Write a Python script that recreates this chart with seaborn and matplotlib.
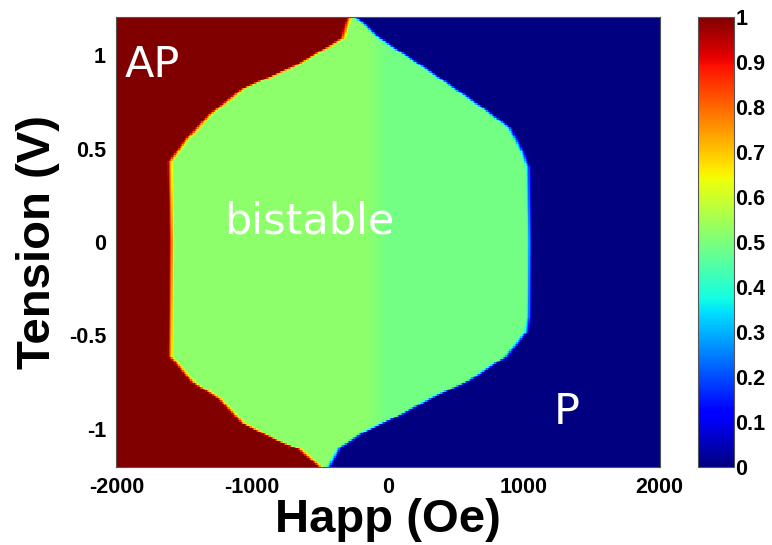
import numpy as np
import pandas as pd
import matplotlib
matplotlib.use("Agg")
import matplotlib.pyplot as plt
import seaborn as sns

# boundary AP / bistable, from top to bottom
left_tension = [1.21, 1.09, 0.946, 0.82, 0.68, 0.55, 0.43, 0.0, -0.61, -0.75, -0.84, -0.97, -1.06, -1.11, -1.21]
left_happ = [-280, -330, -670, -1066, -1310, -1478, -1603, -1590, -1600, -1434, -1235, -1066, -816, -647, -485]

# boundary bistable / P
right_tension = [1.21, 1.09, 0.914, 0.73, 0.61, 0.48, 0.4, 0.0, -0.4, -0.48, -0.61, -0.74, -0.84, -0.935, -1.02, -1.1, -1.21]
right_happ = [-243, -59, 309, 676, 897, 993, 1035, 1045, 1040, 1022, 875, 603, 309, 66, -184, -353, -440]

# level of each state
val_ap = 1.0
val_p = 0.0
val_bist_left = 0.52
val_bist_right = 0.49
bist_split = -80

happ = np.arange(-2000, 2001, 10)
tension = np.round(np.arange(1.2, -1.2001, -0.01), 3)

# build the grid for the heatmap
H, V = np.meshgrid(happ, tension)
L = np.interp(V, left_tension[::-1], left_happ[::-1])
R = np.interp(V, right_tension[::-1], right_happ[::-1])
w = 45.0
a = np.clip((H - L) / w + 0.5, 0, 1)
b = np.clip((H - R) / w + 0.5, 0, 1)
c = np.clip((H - bist_split) / 160.0 + 0.5, 0, 1)
mid = val_bist_left * (1 - c) + val_bist_right * c
Z = (val_ap * (1 - a) + mid * a) * (1 - b) + val_p * b
df = pd.DataFrame(Z, index=tension, columns=happ)

sns.set_style("white")
plt.rcParams['font.family'] = ['Liberation Sans', 'DejaVu Sans']
plt.rcParams['text.color'] = 'black'
plt.rcParams['axes.labelcolor'] = 'black'
plt.rcParams['xtick.color'] = 'black'
plt.rcParams['ytick.color'] = 'black'

fig = plt.figure(figsize=(7.72, 5.45), dpi=100)
ax = fig.add_axes([0.150, 0.143, 0.705, 0.826])
cax = fig.add_axes([0.904, 0.143, 0.047, 0.826])

sns.heatmap(df, cmap="jet", vmin=0, vmax=1, ax=ax, cbar_ax=cax,
            xticklabels=False, yticklabels=False)

dh = happ[1] - happ[0]
dv = tension[0] - tension[1]
xt = [-2000, -1000, 0, 1000, 2000]
yt = [1, 0.5, 0, -0.5, -1]
ax.set_xticks([(x - happ[0]) / dh + 0.5 for x in xt])
ax.set_xticklabels(["-2000", "-1000", "0", "1000", "2000"], fontsize=15.5, fontweight="bold", rotation=0)
ax.set_yticks([(tension[0] - y) / dv + 0.5 for y in yt])
ax.set_yticklabels(["1", "0.5", "0", "-0.5", "-1"], fontsize=15.5, fontweight="bold", rotation=0)
ax.tick_params(direction="in", length=4, width=0.6, color="#444444", top=True, right=True, pad=7)
for s in ax.spines.values():
    s.set_visible(True)
    s.set_color("#555555")
    s.set_linewidth(0.8)

ax.set_xlabel("Happ (Oe)", fontsize=34, fontweight="bold", labelpad=0)
ax.set_ylabel("Tension (V)", fontsize=34, fontweight="bold", labelpad=6)

# state labels
ax.text((-1934 - happ[0]) / dh, (tension[0] - 0.876) / dv, "AP", color="white", fontsize=31,
        family="DejaVu Sans", va="baseline")
ax.text((-1199 - happ[0]) / dh, (tension[0] - 0.043) / dv, "bistable", color="white", fontsize=31,
        family="DejaVu Sans", va="baseline")
ax.text((1228 - happ[0]) / dh, (tension[0] + 0.98) / dv, "P", color="white", fontsize=31,
        family="DejaVu Sans", va="baseline")

cbar = ax.collections[0].colorbar
cbar.set_ticks(np.round(np.arange(0, 1.01, 0.1), 1))
cbar.set_ticklabels(["0", "0.1", "0.2", "0.3", "0.4", "0.5", "0.6", "0.7", "0.8", "0.9", "1"])
cax.tick_params(labelsize=15.5, direction="in", length=4, width=0.6, left=True, right=True, pad=1)
for t in cax.get_yticklabels():
    t.set_fontweight("bold")
cbar.outline.set_edgecolor("#555555")
cbar.outline.set_linewidth(0.8)

fig.savefig("out.png", dpi=100)
